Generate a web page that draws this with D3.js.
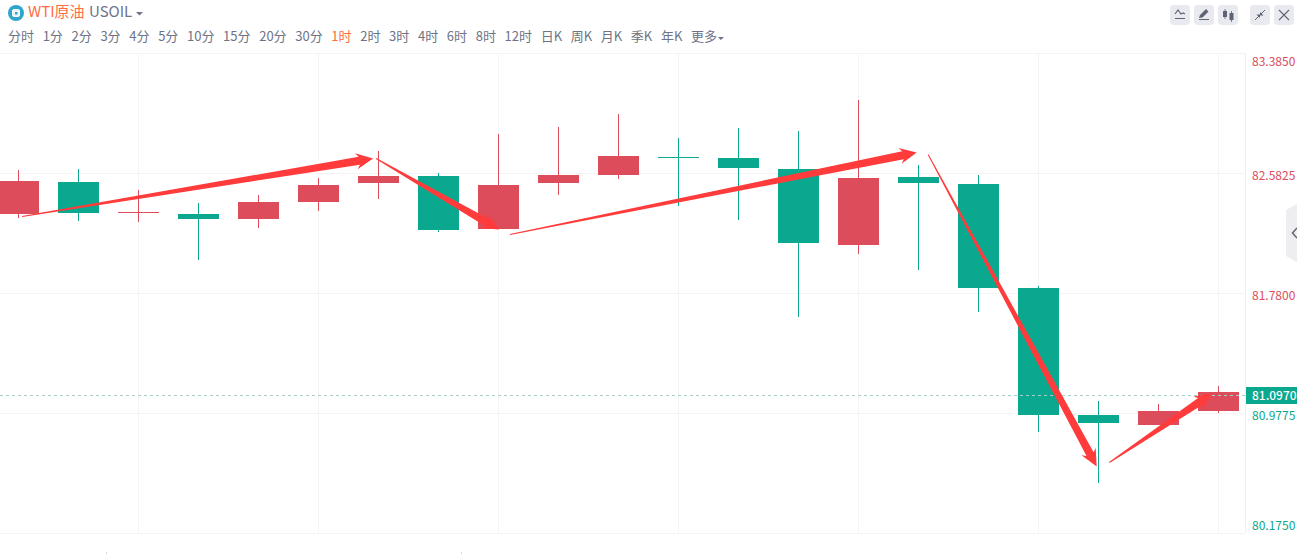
<!DOCTYPE html>
<html>
<head>
<meta charset="utf-8">
<script src="https://cdn.jsdelivr.net/npm/d3@7"></script>
<style>
html, body { margin: 0; padding: 0; background: #fff; overflow: hidden; }
svg { display: block; }
text { font-family: "Noto Sans CJK SC", "Noto Sans", sans-serif; }
</style>
</head>
<body>
<div id="chart"></div>
<script>
// candles, one 1 hour bar per entry
var opens = [82.308, 82.522, 82.315, 82.308, 82.275, 82.389, 82.516, 82.562, 82.208, 82.516, 82.569, 82.690, 82.683, 82.609, 82.101, 82.556, 82.509, 81.813, 80.964, 80.897, 80.991];
var closes = [82.529, 82.315, 82.321, 82.275, 82.389, 82.502, 82.562, 82.201, 82.502, 82.569, 82.696, 82.683, 82.616, 82.114, 82.549, 82.516, 81.813, 80.964, 80.911, 80.991, 81.118];
var highs = [82.603, 82.609, 82.469, 82.382, 82.435, 82.549, 82.730, 82.583, 82.843, 82.890, 82.977, 82.817, 82.883, 82.863, 83.071, 82.636, 82.569, 81.827, 81.058, 81.038, 81.158];
var lows = [82.282, 82.262, 82.255, 82.001, 82.215, 82.328, 82.409, 82.188, 82.208, 82.435, 82.542, 82.362, 82.268, 81.620, 82.041, 81.934, 81.653, 80.850, 80.509, 80.897, 80.978];

var priceTicks = [83.385, 82.5825, 81.78, 80.9775, 80.175];
var timeGridIdx = [2, 5, 8, 11, 14, 17, 20];
var lastPrice = 81.097;

// hand drawn arrows: [from index, from price, to index, to price]
var arrowFromIdx = [0.06, 5.96, 8.19, 15.16, 18.18];
var arrowFromPrice = [82.295, 82.683, 82.175, 82.710, 80.650];
var arrowToIdx = [5.91, 8.01, 14.97, 17.97, 19.89];
var arrowToPrice = [82.683, 82.208, 82.723, 80.623, 81.111];

var periods = ['分时', '1分', '2分', '3分', '4分', '5分', '10分', '15分', '20分', '30分', '1时', '2时', '3时', '4时', '6时', '8时', '12时', '日K', '周K', '月K', '季K', '年K', '更多'];
var activePeriod = '1时';

var width = 1297, height = 554;
var plotRight = 1245;
var red = '#dc4c5b', green = '#0aa88e', arrowRed = '#ff3b3b';

var svg = d3.select('#chart').append('svg').attr('width', width).attr('height', height);

var x = d3.scaleLinear().domain([0, 20]).range([18.5, 1218.5]);
var y = d3.scaleLinear().domain([80.175, 83.385]).range([533.5, 53.5]);
var yPx = v => Math.round(y(v) - 0.5);

// grid
var grid = svg.append('g').attr('stroke', '#f4f4f6').attr('fill', 'none');
grid.selectAll('line.h').data(priceTicks).enter().append('line').attr('class', 'h')
	.attr('x1', 0).attr('x2', plotRight)
	.attr('y1', d => y(d)).attr('y2', d => y(d));
grid.selectAll('line.v').data(timeGridIdx).enter().append('line').attr('class', 'v')
	.attr('x1', d => x(d)).attr('x2', d => x(d))
	.attr('y1', 53).attr('y2', 533);
svg.append('line').attr('x1', plotRight + 0.5).attr('x2', plotRight + 0.5).attr('y1', 53).attr('y2', 533)
	.attr('stroke', '#f0f0f3');

// price axis
var yAxis = svg.append('g')
	.attr('transform', `translate(${plotRight},0)`)
	.call(d3.axisRight(y).tickValues(priceTicks).tickSize(0).tickPadding(7).tickFormat(d3.format('.4f')));
yAxis.select('.domain').remove();
yAxis.selectAll('text')
	.style('font-size', '12px')
	.attr('fill', d => d > 81.5 ? red : green)
	.attr('dy', (d, i) => i == 0 ? 12 : i == priceTicks.length - 1 ? -4 : 6);

// candles
var candles = svg.append('g').selectAll('g').data(opens).enter().append('g')
	.attr('fill', (d, i) => closes[i] >= d ? red : green)
	.attr('stroke', (d, i) => closes[i] >= d ? red : green);
candles.append('line')
	.attr('x1', (d, i) => x(i)).attr('x2', (d, i) => x(i))
	.attr('y1', (d, i) => yPx(highs[i])).attr('y2', (d, i) => yPx(lows[i]));
candles.append('rect')
	.attr('stroke', 'none')
	.attr('x', (d, i) => x(i) - 20.5)
	.attr('width', 41)
	.attr('y', (d, i) => yPx(Math.max(d, closes[i])))
	.attr('height', (d, i) => Math.max(1, yPx(Math.min(d, closes[i])) - yPx(Math.max(d, closes[i]))));

// last price
svg.append('line')
	.attr('x1', 0).attr('x2', plotRight)
	.attr('y1', yPx(lastPrice) + 0.5).attr('y2', yPx(lastPrice) + 0.5)
	.attr('stroke', '#a5cfc6').attr('stroke-dasharray', '3,3');
svg.append('rect').attr('x', plotRight + 1).attr('y', yPx(lastPrice) - 8).attr('width', 51).attr('height', 17).attr('fill', green);
svg.append('text').attr('x', plotRight + 7).attr('y', yPx(lastPrice) + 5)
	.attr('fill', '#fff').style('font-size', '12px').style('font-weight', 500)
	.text(d3.format('.4f')(lastPrice));

// arrows, thin at the tail and widening into the head
function arrowPath(i) {
	var x0 = x(arrowFromIdx[i]), y0 = y(arrowFromPrice[i]);
	var x1 = x(arrowToIdx[i]), y1 = y(arrowToPrice[i]);
	var len = Math.hypot(x1 - x0, y1 - y0);
	var ux = (x1 - x0) / len, uy = (y1 - y0) / len;
	var nx = -uy, ny = ux;
	var headLen = 17, neck = 4, barb = 8;
	var at = (along, off) => [x1 - ux * along + nx * off, y1 - uy * along + ny * off];
	var pts = [
		[x0 + nx * 0.5, y0 + ny * 0.5],
		at(headLen - 3, neck), at(headLen, barb), [x1, y1], at(headLen, -barb), at(headLen - 3, -neck),
		[x0 - nx * 0.5, y0 - ny * 0.5]
	];
	return d3.line()(pts) + 'Z';
}
svg.append('g').selectAll('path').data(arrowFromIdx).enter().append('path')
	.attr('fill', arrowRed)
	.attr('d', (d, i) => arrowPath(i));

// header
svg.append('circle').attr('cx', 16).attr('cy', 13).attr('r', 8).attr('fill', '#2ea5c9');
svg.append('rect').attr('x', 12.5).attr('y', 9.5).attr('width', 7).attr('height', 7).attr('rx', 1.5)
	.attr('fill', '#e8f6fa').attr('stroke', '#fff');
svg.append('rect').attr('x', 15).attr('y', 12).attr('width', 2.5).attr('height', 2.5).attr('fill', '#2ea5c9');
svg.append('text').attr('x', 28).attr('y', 17).attr('fill', '#ff6d3f').style('font-size', '15px').text('WTI原油');
svg.append('text').attr('x', 89).attr('y', 17).attr('fill', '#6e7385').style('font-size', '15px').text('USOIL');
svg.append('path').attr('d', d3.line()([[136, 12], [143, 12], [139.5, 15.5]]) + 'Z').attr('fill', '#6e7385');

var px = 8;
var lastEnd = 0;
svg.append('g').selectAll('text').data(periods).enter().append('text')
	.attr('y', 41)
	.attr('fill', d => d == activePeriod ? '#ff6d3f' : '#6e7385')
	.style('font-size', '13px')
	.text(d => d)
	.each(function() {
		d3.select(this).attr('x', px);
		lastEnd = px + this.getComputedTextLength();
		px = lastEnd + 8.65;
	});
svg.append('path').attr('d', d3.line()([[lastEnd + 1, 37], [lastEnd + 7, 37], [lastEnd + 4, 40]]) + 'Z').attr('fill', '#6e7385');

// tool buttons
var btnX = [1170, 1194, 1218, 1250, 1274];
svg.append('g').selectAll('rect').data(btnX).enter().append('rect')
	.attr('x', d => d).attr('y', 5).attr('width', 20).attr('height', 20).attr('rx', 4).attr('fill', '#e8eaf0');
var ic = '#5f6475';
svg.append('path').attr('d', 'M1175 14l3-4 3 4 2-1 2 1M1175 18.5h10').attr('fill', 'none').attr('stroke', ic).attr('stroke-width', 1.2);
svg.append('path').attr('d', 'M1199 18l1-3 6-6 2.5 2.5-6 6zM1199 19h10v1h-10z').attr('fill', ic);
svg.append('path').attr('d', 'M1223 11h4v6h-4zM1229.5 13h4v7h-4zM1224.6 9h.8v10h-.8zM1231.1 11h.8v11h-.8z').attr('fill', ic);
svg.append('path').attr('d', 'M1255 20l4-4M1265 10l-4 4').attr('stroke', ic).attr('fill', 'none');
svg.append('path').attr('d', 'M1256.5 14.5h3.5v3.5zM1263.5 15.5h-3.5v-3.5z').attr('fill', ic);
svg.append('path').attr('d', 'M1279 10l10 10M1289 10l-10 10').attr('stroke', ic).attr('fill', 'none').attr('stroke-width', 1.1);

// side handle
svg.append('path').attr('d', 'M1297 204l-11 6v46l11 6z').attr('fill', '#eeeef1');
svg.append('path').attr('d', 'M1297 228l-4.5 5 4.5 5').attr('fill', 'none').attr('stroke', '#5f6475').attr('stroke-width', 1.5);

// stubs of the cut off time labels at the bottom edge
svg.append('g').selectAll('line').data([106, 461]).enter().append('line')
	.attr('x1', d => d + 0.5).attr('x2', d => d + 0.5).attr('y1', 552).attr('y2', 554).attr('stroke', '#d8d8dc');
</script>
</body>
</html>
